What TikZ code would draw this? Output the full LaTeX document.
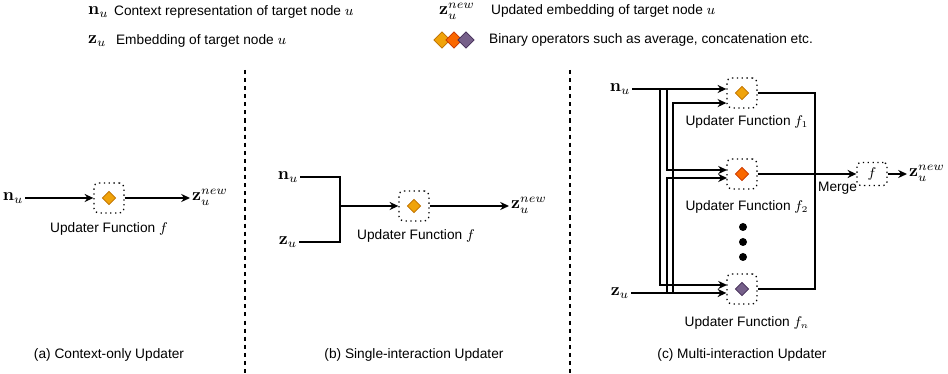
\documentclass[tikz,border=0pt]{standalone}
\usepackage{amsmath}
\usepackage{amssymb}
\usepackage[no-math]{fontspec}
\setmainfont{Liberation Sans}
\usepackage{tikz}
\usetikzlibrary{arrows.meta, shapes.geometric}
\usetikzlibrary{positioning}

\definecolor{opyellow}{HTML}{F0A30A}
\definecolor{opyellowdk}{HTML}{BD7000}
\definecolor{oporange}{HTML}{FA6800}
\definecolor{oporangedk}{HTML}{C73500}
\definecolor{oppurple}{HTML}{76608A}
\definecolor{oppurpledk}{HTML}{432D57}

\begin{document}
\begin{tikzpicture}[x=0.02cm, y=-0.02cm, >={Stealth[length=5pt, width=4.6pt]},
  font=\fontsize{7.8}{9.4}\selectfont,
  every node/.style={inner sep=1pt},
  mathsym/.style={font=\fontsize{9.6}{11}\selectfont},
  wire/.style={line width=0.75pt},
  updbox/.style={draw, dotted, line width=0.75pt, rounded corners=2.5pt,
    minimum width=0.6cm, minimum height=0.6cm},
  mrgbox/.style={draw, dotted, line width=0.75pt, rounded corners=2pt,
    minimum width=0.6cm, minimum height=0.46cm},
  opdiamond/.style={diamond, aspect=1, inner sep=0pt, minimum size=0.27cm, line width=0.4pt},
  lgdiamond/.style={diamond, aspect=1, inner sep=0pt, minimum size=0.33cm, line width=0.4pt},
  dotnode/.style={circle, fill=black, inner sep=0pt, minimum size=0.16cm},
  sep/.style={dashed, line width=0.7pt, dash pattern=on 2.3pt off 2.3pt}]

\useasboundingbox (0,0) rectangle (948,374);

% -------------------------------------------------------
% 1. Legend
% -------------------------------------------------------
\node[mathsym, anchor=west] (lgn) at (86,12) {$\mathbf{n}_u$};
\node[anchor=west] (lgntxt) at (112,12) {Context representation of target node $u$};
\node[mathsym, anchor=west] (lgz) at (86,41) {$\mathbf{z}_u$};
\node[anchor=west] (lgztxt) at (114,41) {Embedding of target node $u$};
\node[mathsym, anchor=west] (lgnew) at (437,11) {$\mathbf{z}_u^{new}$};
\node[anchor=west] (lgnewtxt) at (489,11) {Updated embedding of target node $u$};
\node[lgdiamond, fill=opyellow, draw=opyellowdk] (lgd1) at (442,40) {};
\node[lgdiamond, fill=oporange, draw=oporangedk] (lgd2) at (454,40) {};
\node[lgdiamond, fill=oppurple, draw=oppurpledk] (lgd3) at (466,40) {};
\node[anchor=west] (lgdtxt) at (487,40) {Binary operators such as average, concatenation etc.};

% -------------------------------------------------------
% 2. Separators and captions
% -------------------------------------------------------
\draw[sep] (245,70) -- (245,374);
\draw[sep] (570,70) -- (570,374);

\node (capa) at (109,355) {(a) Context-only Updater};
\node (capb) at (414,355) {(b) Single-interaction Updater};
\node (capc) at (742,355) {(c) Multi-interaction Updater};

% -------------------------------------------------------
% 3. (a) Context-only updater
% -------------------------------------------------------
\node[mathsym] (an) at (13,198) {$\mathbf{n}_u$};
\node[updbox] (af) at (109,198) {};
\node[opdiamond, fill=opyellow, draw=opyellowdk] (afop) at (af) {};
\node[mathsym, anchor=west] (aout) at (190,197) {$\mathbf{z}_u^{new}$};
\node (aflbl) at (109,229) {Updater Function $f$};

\draw[wire, ->] (an) -- (af);
\draw[wire, ->] (af) -- (af -| aout.west);

% -------------------------------------------------------
% 4. (b) Single-interaction updater
% -------------------------------------------------------
\node[mathsym] (bn) at (288,177) {$\mathbf{n}_u$};
\node[mathsym] (bz) at (288,242) {$\mathbf{z}_u$};
\coordinate (bj) at (340,206);
\node[updbox] (bf) at (414,206) {};
\node[opdiamond, fill=opyellow, draw=opyellowdk] (bfop) at (bf) {};
\node[mathsym, anchor=west] (bout) at (509,205) {$\mathbf{z}_u^{new}$};
\node (bflbl) at (416,236) {Updater Function $f$};

\draw[wire] (bn) -| (bj);
\draw[wire] (bz) -| (bj);
\draw[wire, ->] (bj) -- (bf);
\draw[wire, ->] (bf) -- (bf -| bout.west);

% -------------------------------------------------------
% 5. (c) Multi-interaction updater
% -------------------------------------------------------
\node[mathsym] (cn) at (620,89) {$\mathbf{n}_u$};
\node[mathsym] (cz) at (620,293) {$\mathbf{z}_u$};

\node[updbox] (c1) at (742,93) {};
\node[updbox] (c2) at (742,174) {};
\node[updbox] (c3) at (742,289) {};
\node[opdiamond, fill=opyellow, draw=opyellowdk] (c1op) at (c1) {};
\node[opdiamond, fill=oporange, draw=oporangedk] (c2op) at (c2) {};
\node[opdiamond, fill=oppurple, draw=oppurpledk] (c3op) at (c3) {};
\node (c1lbl) at (747,122) {Updater Function $f_1$};
\node (c2lbl) at (747,207) {Updater Function $f_2$};
\node (c3lbl) at (747,323) {Updater Function $f_n$};

\node[dotnode] (dot1) at (743,227) {};
\node[dotnode] (dot2) at (743,242) {};
\node[dotnode] (dot3) at (743,257) {};

% entry points on the updater boxes
\coordinate (c1in1) at (c1.west |- cn);
\coordinate (c1in2) at ([yshift=-8]c1.west |- cn);
\coordinate (c2in1) at (727,170);
\coordinate (c2in2) at (727,178);
\coordinate (c3in1) at (727,285);
\coordinate (c3in2) at (c3.west |- cz);

% vertical rails
\coordinate (vA) at (660,0);
\coordinate (vB) at (667,0);
\coordinate (vC) at (673,0);
\coordinate (vO) at (815,0);

\draw[wire, ->] (cn) -- (c1in1);
\draw[wire, ->] (cn) -| (vA |- c3in1) -- (c3in1);
\draw[wire, ->] (cn) -| (vB |- c2in1) -- (c2in1);
\draw[wire, ->] (cz) -| (vC |- c1in2) -- (c1in2);
\draw[wire, ->] (cz) -| (vB |- c2in2) -- (c2in2);
\draw[wire, ->] (cz) -- (c3in2);

% merge
\node[mrgbox] (cf) at (872,174) {$f$};
\node[mathsym, anchor=west] (cout) at (907,173) {$\mathbf{z}_u^{new}$};
\node[anchor=north west] (mrglbl) at (816,180) {Merge};

\draw[wire] (c1) -| (vO |- c3) -- (c3);
\draw[wire] (c2) -- (vO |- c2);
\draw[line width=1.1pt, ->] (vO |- c2) -- (cf);
\draw[wire, ->] (cf) -- (cf -| cout.west);

\end{tikzpicture}
\end{document}
